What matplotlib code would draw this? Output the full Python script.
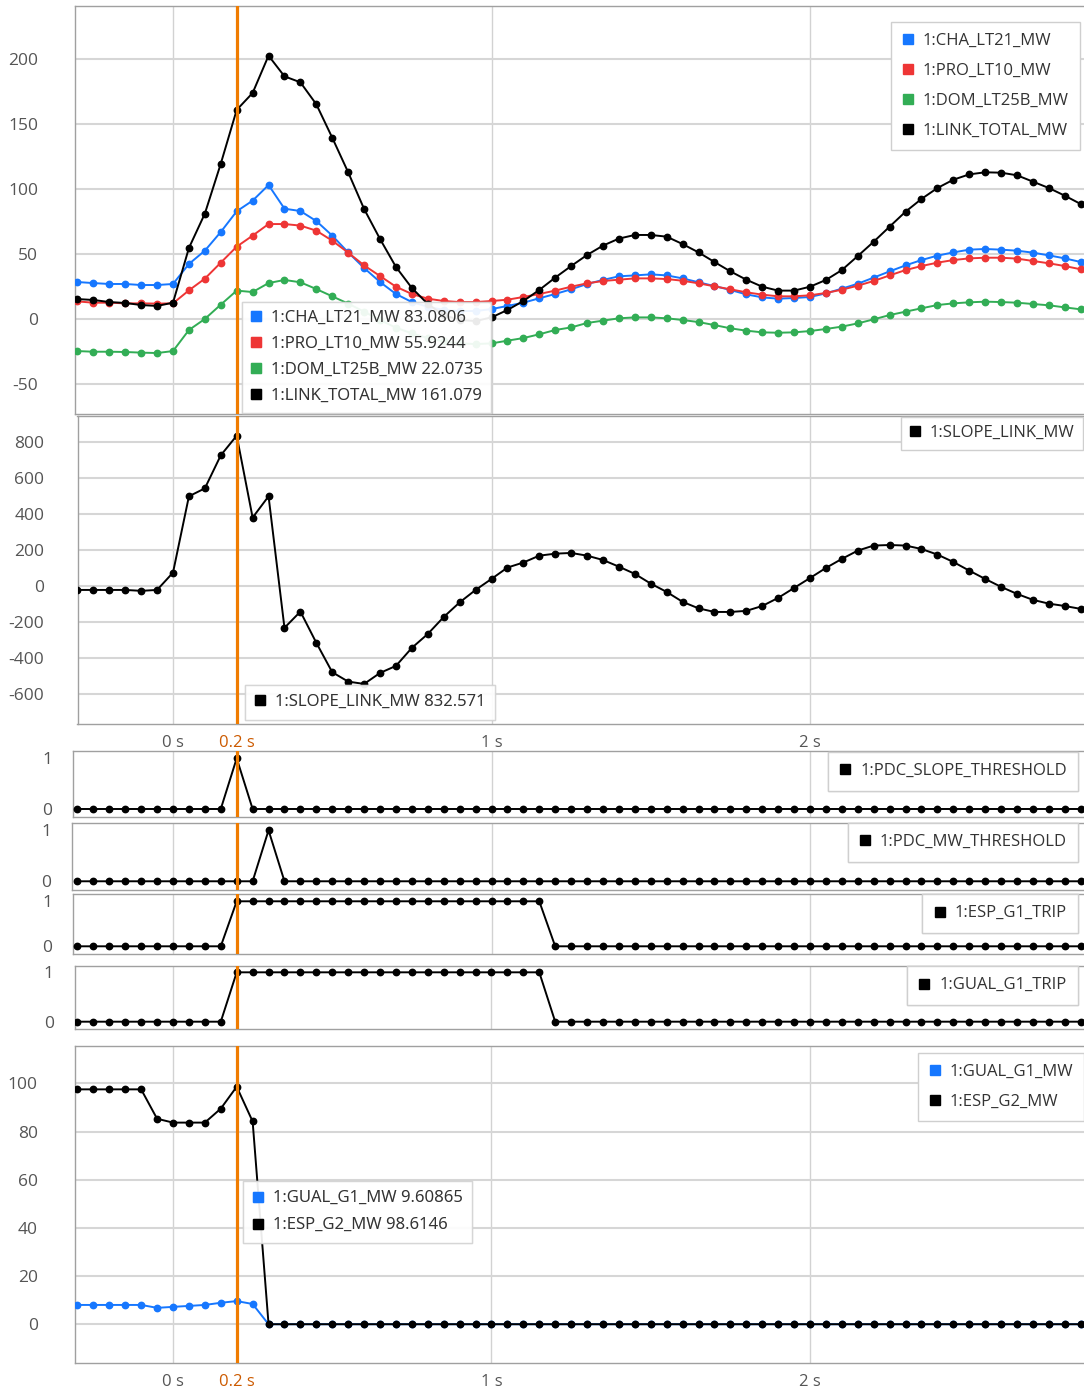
import numpy as np
import matplotlib.pyplot as plt
from matplotlib.lines import Line2D

plt.rcParams['font.family'] = ['Open Sans', 'DejaVu Sans']

# time axis: -0.30 s .. 2.85 s, 0.05 s steps
t = np.round(np.arange(-0.30, 2.851, 0.05), 2)

cha_lt21 = [28.7, 27.9, 27.2, 27.2, 26.4, 26.4, 27.2, 42.6, 52.8, 67.2,
            83.1, 91.3, 103.3, 85.1, 83.3, 75.6, 64.4, 51.5, 39.5, 28.7,
            19.5, 13.3, 9.7, 7.2, 6.4, 6.4, 7.9, 10.3, 12.8, 16.2,
            19.5, 23.1, 27.2, 30.3, 33.1, 33.8, 34.6, 33.8, 31.5, 28.5,
            25.6, 22.6, 19.2, 16.9, 15.9, 16.4, 17.2, 20.0, 23.6, 27.4,
            32.1, 36.9, 41.5, 45.6, 49.0, 51.5, 53.6, 54.1, 53.6, 52.8,
            51.3, 49.2, 46.9, 44.1]
pro_lt10 = [13.8, 12.8, 12.8, 12.3, 12.3, 12.1, 12.3, 22.3, 31.3, 43.6,
            55.9, 64.4, 73.3, 73.3, 72.1, 68.2, 60.5, 51.3, 41.5, 33.3,
            25.1, 19.5, 15.9, 14.1, 13.3, 13.3, 14.1, 15.1, 17.2, 19.5,
            22.1, 25.1, 27.7, 29.5, 30.5, 31.5, 31.5, 31.0, 29.7, 27.7,
            25.4, 23.1, 20.8, 19.0, 17.7, 17.7, 18.5, 20.3, 22.8, 25.9,
            29.5, 33.8, 37.9, 41.0, 43.6, 45.6, 46.9, 47.4, 47.4, 46.7,
            44.9, 43.1, 41.0, 38.5]
dom_lt25b = [-24.4, -24.9, -24.9, -25.1, -25.6, -25.9, -24.4, -8.2, 0.3, 11.3,
             22.1, 21.0, 27.9, 30.3, 28.5, 23.3, 17.7, 12.1, 5.9, -0.5,
             -6.4, -10.8, -14.4, -16.9, -18.5, -19.0, -18.5, -16.4, -14.4, -11.5,
             -8.2, -6.2, -2.8, -1.0, 0.8, 1.5, 1.5, 0.8, -0.5, -2.1,
             -4.4, -6.9, -8.7, -10.0, -10.3, -10.0, -9.0, -7.4, -5.6, -3.1,
             0.0, 3.3, 5.9, 8.5, 11.0, 12.3, 13.1, 13.6, 13.3, 12.8,
             11.8, 10.8, 9.2, 7.7]
link_total = [15.6, 14.9, 13.3, 12.6, 11.0, 10.3, 12.8, 54.9, 81.3, 119.7,
              161.1, 174.1, 202.8, 186.9, 182.3, 165.4, 139.7, 113.1, 84.9, 61.8,
              40.3, 24.1, 11.8, 3.3, -0.5, -1.3, 1.5, 7.2, 14.1, 22.6,
              32.1, 41.0, 49.5, 56.7, 62.1, 64.9, 64.9, 63.6, 57.9, 51.5,
              44.1, 36.9, 30.5, 25.1, 22.1, 22.1, 25.1, 30.3, 37.9, 48.7,
              59.7, 71.3, 82.8, 92.6, 101.0, 107.4, 111.5, 113.1, 112.8, 110.8,
              105.9, 101.0, 95.1, 88.7]
slope_link = [-22, -22, -22, -22, -27, -22, 74, 497, 541, 724,
              833, 379, 497, -232, -142, -315, -478, -530, -543, -482,
              -443, -343, -266, -172, -91, -22, 39, 102, 130, 168,
              179, 183, 168, 144, 107, 67, 13, -33, -88, -124,
              -144, -144, -138, -111, -66, -11, 44, 100, 150, 196,
              224, 227, 224, 205, 174, 133, 85, 39, -5, -44,
              -77, -98, -111, -127]
pdc_slope = [0] * 10 + [1] + [0] * 53
pdc_mw = [0] * 12 + [1] + [0] * 51
esp_g1_trip = [0] * 10 + [1] * 20 + [0] * 34
gual_g1_trip = [0] * 10 + [1] * 20 + [0] * 34
esp_g2_mw = [97.5, 97.5, 97.5, 97.5, 97.5, 85.3, 83.7, 83.7, 83.7, 89.5,
             98.6, 84.2] + [0] * 52
gual_g1_mw = [8.0, 8.0, 8.0, 8.0, 8.0, 6.8, 7.2, 7.6, 8.0, 8.9,
              9.6, 8.4] + [0] * 52

cursor_t = 0.2

BLUE = '#1677ff'
RED = '#ee3535'
GREEN = '#32ad55'
BLACK = '#000000'
ORANGE = '#f07c00'

W, H = 1084, 1393
fig = plt.figure(figsize=(W / 100, H / 100), dpi=100)

X0, PXS = 173.0, 318.5   # pixel of 0 s, pixels per second
RIGHT = 1084


def make_ax(l, top, bot, ylim, yticks, ypad, hgrid=True, xlabels=False):
    ax = fig.add_axes([l / W, 1 - bot / H, (RIGHT - l) / W, (bot - top) / H])
    ax.set_xlim((l - X0) / PXS, (RIGHT - X0) / PXS)
    ax.set_ylim(*ylim)
    ax.set_yticks(yticks)
    ax.set_yticklabels([str(v) for v in yticks])
    ax.tick_params(axis='y', length=0, pad=ypad, labelsize=12.5, labelcolor='#555555')
    if xlabels:
        ax.set_xticks([0, cursor_t, 1, 2])
        ax.set_xticklabels(['0 s', '0.2 s', '1 s', '2 s'])
        ax.tick_params(axis='x', length=0, pad=8, labelsize=12, labelcolor='#555555')
        ax.get_xticklabels()[1].set_color('#cc5a00')
    else:
        ax.set_xticks([0, 1, 2])
        ax.tick_params(axis='x', length=0, labelbottom=False)
    ax.grid(axis='x', color='#d2d2d2', lw=1)
    if hgrid:
        ax.grid(axis='y', color='#d6d6d6', lw=1.5)
    for s in ['left', 'top', 'bottom']:
        ax.spines[s].set_color('#a0a0a0')
        ax.spines[s].set_linewidth(1)
    ax.spines['right'].set_visible(False)
    ax.set_axisbelow(True)
    ax.axvline(cursor_t, color=ORANGE, lw=2.3, zorder=4)
    return ax


def series(ax, y, color):
    ax.plot(t, y, color=color, lw=1.4, marker='o', ms=4.6, zorder=3)


def box(ax, names, colors, px, py, loc, spacing, pad, alpha=1.0):
    handles = [Line2D([], [], ls='none', marker='s', ms=7, color=c) for c in colors]
    leg = ax.legend(handles, names, loc=loc, bbox_to_anchor=(px / W, 1 - py / H),
                    bbox_transform=fig.transFigure, borderaxespad=0,
                    fontsize=12, frameon=True, fancybox=False,
                    framealpha=alpha, edgecolor='#cfcfcf', handlelength=0.7,
                    handletextpad=0.55, labelspacing=spacing, borderpad=pad,
                    labelcolor='#333333')
    leg.get_frame().set_linewidth(1)
    leg.set_zorder(6)
    ax.add_artist(leg)
    return leg


# panel 1: line flows
ax1 = make_ax(75, 6, 414, (-72.8, 241), [-50, 0, 50, 100, 150, 200], 26.5)
series(ax1, dom_lt25b, GREEN)
series(ax1, cha_lt21, BLUE)
series(ax1, pro_lt10, RED)
series(ax1, link_total, BLACK)
names1 = ['1:CHA_LT21_MW', '1:PRO_LT10_MW', '1:DOM_LT25B_MW', '1:LINK_TOTAL_MW']
cols1 = [BLUE, RED, GREEN, BLACK]
box(ax1, names1, cols1, 1080, 22, 'upper right', 0.84, 0.66)
vals1 = [83.0806, 55.9244, 22.0735, 161.079]
box(ax1, [f'{n} {v}' for n, v in zip(names1, vals1)], cols1, 242, 302,
    'upper left', 0.6, 0.5, alpha=0.72)

# panel 2: slope
ax2 = make_ax(77.5, 416, 724, (-765, 942), [-600, -400, -200, 0, 200, 400, 600, 800],
              24, xlabels=True)
series(ax2, slope_link, BLACK)
box(ax2, ['1:SLOPE_LINK_MW'], [BLACK], 1083, 417, 'upper right', 0.5, 0.5)
box(ax2, ['1:SLOPE_LINK_MW 832.571'], [BLACK], 244.5, 685, 'upper left', 0.5, 0.56,
    alpha=0.72)

# panels 3-6: binary signals
flags = [
    (73.3, 751, 817, (-0.158, 1.144), pdc_slope, '1:PDC_SLOPE_THRESHOLD', 752),
    (72.3, 823, 890, (-0.171, 1.143), pdc_mw, '1:PDC_MW_THRESHOLD', 823),
    (73.3, 894, 954, (-0.171, 1.162), esp_g1_trip, '1:ESP_G1_TRIP', 894),
    (74.7, 966, 1029, (-0.148, 1.128), gual_g1_trip, '1:GUAL_G1_TRIP', 966),
]
for l, top, bot, yl, y, name, ly in flags:
    ax = make_ax(l, top, bot, yl, [0, 1], 15, hgrid=False)
    series(ax, y, BLACK)
    box(ax, [name], [BLACK], 1078, ly, 'upper right', 0.5, 0.68)

# panel 7: generator outputs
ax7 = make_ax(74.7, 1046, 1363, (-16.1, 115.5), [0, 20, 40, 60, 80, 100], 26.5,
              xlabels=True)
series(ax7, gual_g1_mw, BLUE)
series(ax7, esp_g2_mw, BLACK)
names7 = ['1:GUAL_G1_MW', '1:ESP_G2_MW']
box(ax7, names7, [BLUE, BLACK], 1084, 1053, 'upper right', 0.84, 0.65)
box(ax7, ['1:GUAL_G1_MW 9.60865', '1:ESP_G2_MW 98.6146'], [BLUE, BLACK], 243, 1181,
    'upper left', 0.66, 0.56, alpha=0.72)

fig.savefig('out.png', dpi=100)
